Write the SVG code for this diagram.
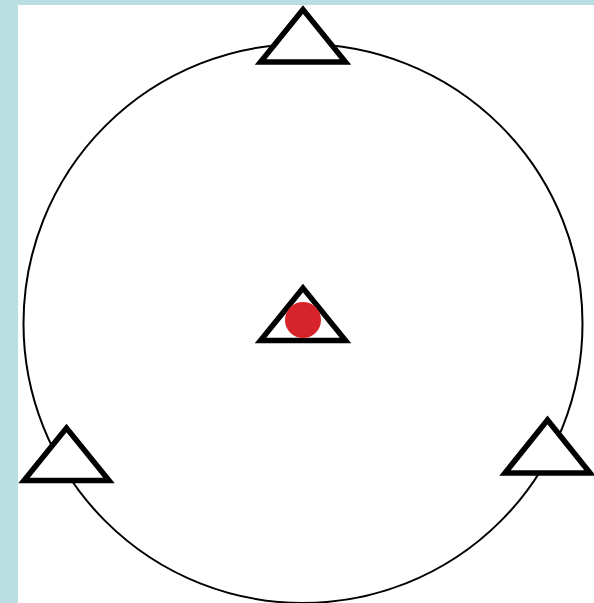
<svg xmlns="http://www.w3.org/2000/svg" width="594" height="603" viewBox="0 0 594 603">
<style>
.tri{fill:#fff;stroke:#000;stroke-width:5.5;stroke-linejoin:miter;stroke-miterlimit:10}
.ring{fill:none;stroke:#000;stroke-width:2}
</style>
<rect x="0" y="0" width="594" height="603" fill="#b9dfe3"/>
<rect x="18" y="5" width="576" height="598" fill="#fff"/>
<g id="ring"><circle class="ring" cx="303" cy="323.5" r="279.5"/></g>
<g id="tri-top"><polygon class="tri" points="303,9.5 260.5,62 345.5,62"/></g>
<g id="tri-center"><polygon class="tri" points="303,288 260.5,340.5 345.5,340.5"/><circle cx="303" cy="320" r="18" fill="#d7232a"/></g>
<g id="tri-left"><polygon class="tri" points="66.5,428 24,480.5 109,480.5"/></g>
<g id="tri-right"><polygon class="tri" points="547.5,420 505,473 590,473"/></g>
</svg>
